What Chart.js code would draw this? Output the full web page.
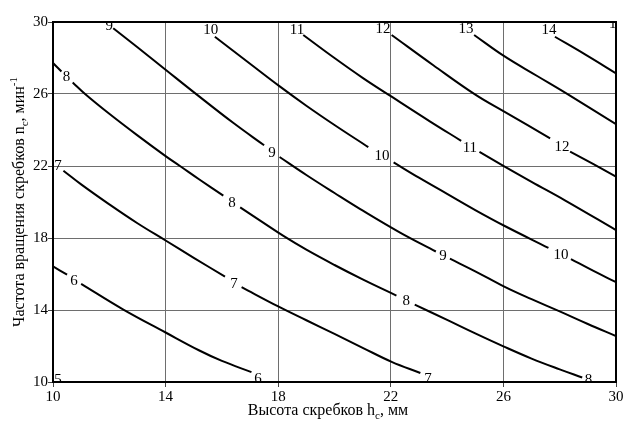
<!DOCTYPE html>
<html><head><meta charset="utf-8">
<script src="https://cdn.jsdelivr.net/npm/chart.js@4"></script>
<style>html,body{margin:0;padding:0;background:#fff}#wrap{width:628px;height:421px}</style>
</head><body><div id="wrap"><canvas id="c"></canvas></div>
<script>
// Contour levels
const levels = [5, 6, 7, 8, 9, 10, 11, 12, 13, 14, 15];
// Axis tick values
const xTicks = [10, 14, 18, 22, 26, 30];
const yTicks = [10, 14, 18, 22, 26, 30];

// Contour lines: each is a list of segments (broken where the labels sit), points [h_c, n_c]
const line5 = [];
const line6 = [
  [[10, 16.42], [10.5, 15.96]],
  [[11.0, 15.45], [12.5, 14.02], [14.0, 12.75], [15.2, 11.75], [16.0, 11.17], [17.05, 10.55]]
];
const line7 = [
  [[10.37, 21.74], [11.0, 20.98], [12.0, 19.87], [13.0, 18.82], [14.0, 17.86], [15.0, 16.9], [16.11, 15.85]],
  [[16.7, 15.27], [18.0, 14.2], [19.0, 13.43], [20.0, 12.67], [21.0, 11.9], [22.03, 11.12], [23.05, 10.5]]
];
const line8 = [
  [[10, 27.72], [10.3, 27.25]],
  [[10.7, 26.64], [11.14, 26.0], [12.0, 24.9], [13.0, 23.7], [14.0, 22.55], [14.51, 22.0], [15.2, 21.25], [16.05, 20.35]],
  [[16.65, 19.7], [17.4, 18.92], [18.2, 18.1], [19.0, 17.35], [20.0, 16.5], [21.0, 15.7], [22.2, 14.8]],
  [[22.85, 14.3], [24.0, 13.45], [25.0, 12.7], [26.0, 11.98], [27.0, 11.3], [28.0, 10.7], [28.8, 10.25]]
];
const line9 = [
  [[12.14, 29.65], [13.0, 28.6], [14.0, 27.35], [15.1, 25.98], [16.4, 24.4], [17.5, 23.15]],
  [[18.05, 22.5], [19.0, 21.5], [20.0, 20.5], [20.9, 19.62], [22.33, 18.3], [23.6, 17.25]],
  [[24.1, 16.85], [25.0, 16.15], [26.03, 15.3], [27.0, 14.6], [28.0, 13.92], [29.0, 13.22], [30, 12.55]]
];
const line10 = [
  [[15.75, 29.18], [17.0, 27.68], [18.03, 26.45], [19.0, 25.35], [20.0, 24.28], [21.2, 23.05]],
  [[22.1, 22.2], [23.0, 21.35], [24.0, 20.45], [25.0, 19.55], [26.03, 18.68], [27.6, 17.45]],
  [[28.4, 16.83], [29.2, 16.17], [30, 15.55]]
];
const line11 = [
  [[18.89, 29.28], [20.0, 28.0], [21.0, 26.9], [22.03, 25.85], [23.4, 24.47], [24.5, 23.4]],
  [[25.15, 22.78], [26.03, 21.98], [27.0, 21.12], [28.2, 20.08], [30, 18.44]]
];
const line12 = [
  [[22.03, 29.28], [23.51, 27.6], [24.99, 25.98], [26.03, 25.02], [27.66, 23.54]],
  [[28.37, 22.8], [29.2, 22.1], [30, 21.41]]
];
const line13 = [
  [[24.96, 29.28], [26.03, 28.1], [27.2, 27.0], [28.25, 26.02], [30, 24.33]]
];
const line14 = [
  [[27.83, 29.18], [28.9, 28.2], [30, 27.15]]
];
const line15 = [];

// Contour label anchor points [h_c, n_c]
const labels5 = [[10.18, 10.18]];
const labels6 = [[10.75, 15.67], [17.28, 10.22]];
const labels7 = [[10.18, 22.05], [16.43, 15.52], [23.32, 10.24]];
const labels8 = [[10.48, 27.0], [16.36, 20.0], [22.55, 14.55], [29.02, 10.14]];
const labels9 = [[12.0, 29.82], [17.78, 22.8], [23.85, 17.03]];
const labels10 = [[15.6, 29.6], [21.69, 22.61], [28.05, 17.1]];
const labels11 = [[18.67, 29.6], [24.81, 23.05]];
const labels12 = [[21.72, 29.64], [28.08, 23.11]];
const labels13 = [[24.67, 29.64]];
const labels14 = [[27.62, 29.6]];
const labels15 = [[30.02, 29.93]];

const lines = {5: line5, 6: line6, 7: line7, 8: line8, 9: line9, 10: line10, 11: line11, 12: line12, 13: line13, 14: line14, 15: line15};
const labelPts = {5: labels5, 6: labels6, 7: labels7, 8: labels8, 9: labels9, 10: labels10, 11: labels11, 12: labels12, 13: labels13, 14: labels14, 15: labels15};

const xTitle = [{t: 'Высота скребков h'}, {t: 'c', sub: true}, {t: ', мм'}];
const yTitle = [{t: 'Частота вращения скребков n'}, {t: 'c', sub: true}, {t: ', мин'}, {t: '-1', sup: true}];

const FONT = '"Liberation Serif", "Times New Roman", serif';

const datasets = [];
levels.forEach(lv => {
  lines[lv].forEach(seg => {
    datasets.push({
      label: 'Уровень ' + lv,
      data: seg.map(p => ({x: p[0], y: p[1]})),
      showLine: true,
      borderColor: '#000',
      borderWidth: 2,
      pointRadius: 0,
      pointHoverRadius: 0,
      tension: 0.4,
      fill: false
    });
  });
});

function drawRich(ctx, parts, size, cx, baseY) {
  const small = Math.round(size * 0.68);
  let total = 0;
  const widths = parts.map(p => {
    ctx.font = ((p.sub || p.sup) ? small : size) + 'px ' + FONT;
    const w = ctx.measureText(p.t).width;
    total += w;
    return w;
  });
  let x = cx - total / 2;
  ctx.textAlign = 'left';
  ctx.textBaseline = 'alphabetic';
  parts.forEach((p, i) => {
    ctx.font = ((p.sub || p.sup) ? small : size) + 'px ' + FONT;
    let dy = 0;
    if (p.sub) dy = size * 0.25;
    if (p.sup) dy = -size * 0.42;
    ctx.fillText(p.t, x, baseY + dy);
    x += widths[i];
  });
}

const contourPlugin = {
  id: 'contourDecor',
  afterDatasetsDraw(chart) {
    const ctx = chart.ctx, ca = chart.chartArea;
    const xs = chart.scales.x, ys = chart.scales.y;
    ctx.save();
    ctx.beginPath();
    ctx.rect(ca.left, ca.top, ca.right - ca.left, ca.bottom - ca.top);
    ctx.clip();
    ctx.fillStyle = '#000';
    ctx.font = '15px ' + FONT;
    ctx.textAlign = 'center';
    ctx.textBaseline = 'middle';
    levels.forEach(lv => {
      labelPts[lv].forEach(p => {
        ctx.fillText(String(lv), xs.getPixelForValue(p[0]), ys.getPixelForValue(p[1]) + 1);
      });
    });
    ctx.restore();
    ctx.save();
    ctx.strokeStyle = '#000';
    ctx.lineWidth = 2;
    ctx.strokeRect(ca.left, ca.top, ca.right - ca.left, ca.bottom - ca.top);
    ctx.restore();
  },
  afterDraw(chart) {
    const ctx = chart.ctx, ca = chart.chartArea;
    ctx.save();
    ctx.fillStyle = '#000';
    drawRich(ctx, xTitle, 16, 328, 415);
    ctx.translate(24, (ca.top + ca.bottom) / 2);
    ctx.rotate(-Math.PI / 2);
    drawRich(ctx, yTitle, 16, 0, 0);
    ctx.restore();
  }
};

new Chart(document.getElementById('c'), {
  type: 'scatter',
  data: {datasets},
  plugins: [contourPlugin],
  options: {
    responsive: true,
    maintainAspectRatio: false,
    animation: false,
    layout: {padding: {top: 22, right: 12, left: 0, bottom: 0}},
    plugins: {legend: {display: false}, tooltip: {enabled: false}},
    scales: {
      x: {
        type: 'linear', min: 10, max: 30,
        afterBuildTicks: s => { s.ticks = xTicks.map(v => ({value: v})); },
        ticks: {color: '#000', font: {family: FONT, size: 15}, padding: 1, maxRotation: 0, autoSkip: false},
        grid: {color: '#6e6e6e', lineWidth: 1, tickLength: 5, tickColor: '#444'},
        border: {color: '#000', width: 2},
        afterFit: s => { s.height = 39; }
      },
      y: {
        type: 'linear', min: 10, max: 30,
        afterBuildTicks: s => { s.ticks = yTicks.map(v => ({value: v})); },
        ticks: {color: '#000', font: {family: FONT, size: 15}, padding: 0, autoSkip: false},
        grid: {color: '#6e6e6e', lineWidth: 1, tickLength: 5, tickColor: '#444'},
        border: {color: '#000', width: 2},
        afterFit: s => { s.width = 53; }
      }
    }
  }
});
</script></body></html>
